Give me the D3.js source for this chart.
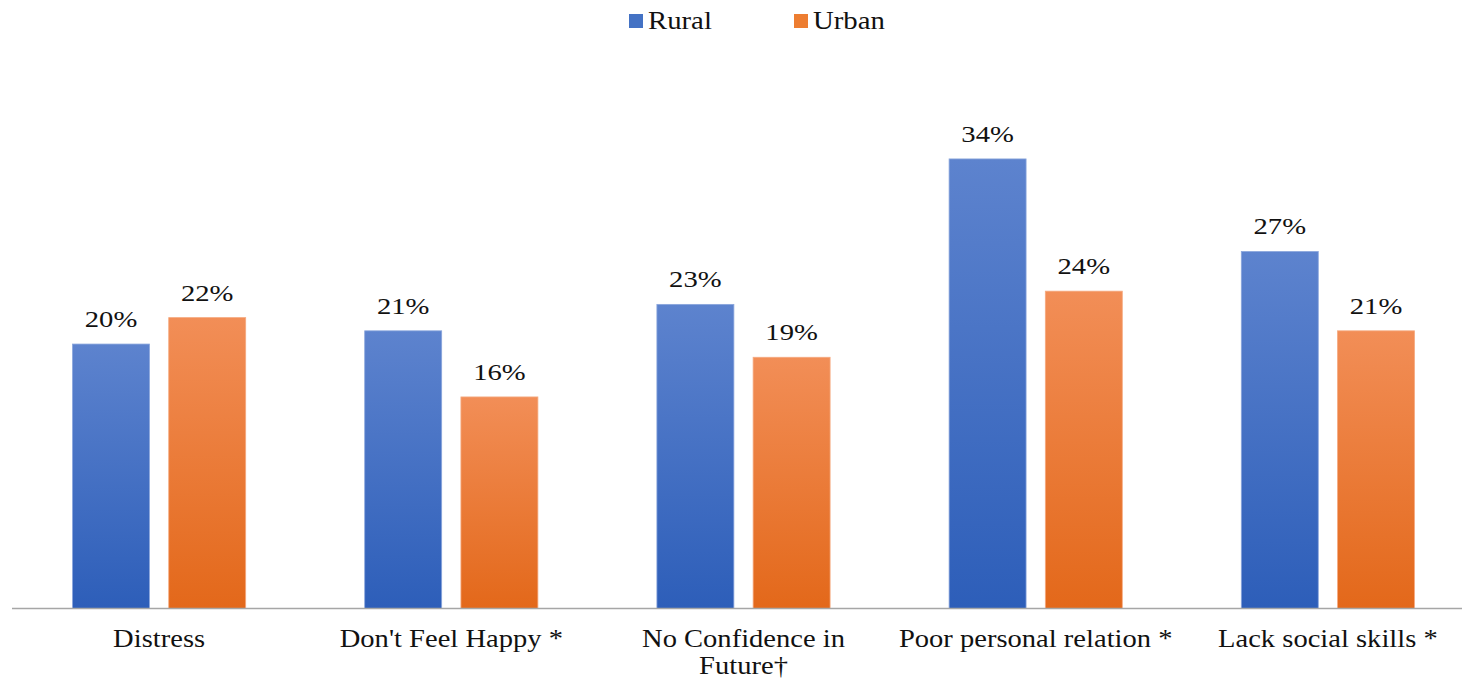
<!DOCTYPE html>
<html>
<head>
<meta charset="utf-8">
<script src="https://cdn.jsdelivr.net/npm/d3@7"></script>
<style>
  html, body { margin: 0; padding: 0; background: #fff; }
  svg { display: block; }
  text { font-family: "Liberation Serif", "Times New Roman", serif; fill: #111; }
</style>
</head>
<body>
<svg id="chart" width="1462" height="682"></svg>
<script>
// Share of respondents by indicator, rural vs urban
const categories = [
  "Distress",
  "Don't Feel Happy *",
  "No Confidence in Future\u2020",
  "Poor personal relation *",
  "Lack social skills *"
];
const categoryLines = [
  ["Distress"],
  ["Don't Feel Happy *"],
  ["No Confidence in", "Future\u2020"],
  ["Poor personal relation *"],
  ["Lack social skills *"]
];
const seriesNames = ["Rural", "Urban"];
const rural = [20, 21, 23, 34, 27];
const urban = [22, 16, 19, 24, 21];

const svg = d3.select("#chart");
const W = 1462, H = 682;

const x0 = d3.scaleBand().domain(categories).range([13, 1474]).paddingInner(0).paddingOuter(0);
const x1 = d3.scaleBand().domain(seriesNames).range([59.5, x0.bandwidth() - 59.5]).paddingInner(0.2).paddingOuter(0);
const y = d3.scaleLinear().domain([0, 40]).range([608.5, 79.6]);

// gradients
const defs = svg.append("defs");
const grads = [
  { id: "gRural", top: "#5d83ce", bottom: "#2d5eb9" },
  { id: "gUrban", top: "#f28e57", bottom: "#e3681a" }
];
grads.forEach(g => {
  const lg = defs.append("linearGradient").attr("id", g.id)
    .attr("x1", 0).attr("y1", 0).attr("x2", 0).attr("y2", 1);
  lg.append("stop").attr("offset", "0%").attr("stop-color", g.top);
  lg.append("stop").attr("offset", "100%").attr("stop-color", g.bottom);
});
const fills = { Rural: "url(#gRural)", Urban: "url(#gUrban)" };
const strokes = { Rural: "#8aa6dc", Urban: "#f5aa80" };

const rows = categories.map((c, i) => ({ cat: c, vals: [
  { s: "Rural", v: rural[i] }, { s: "Urban", v: urban[i] }
]}));

const groups = svg.selectAll("g.cat").data(rows).enter().append("g")
  .attr("class", "cat")
  .attr("transform", d => `translate(${x0(d.cat)},0)`);

groups.selectAll("rect").data(d => d.vals).enter().append("rect")
  .attr("x", d => x1(d.s))
  .attr("y", d => y(d.v))
  .attr("width", x1.bandwidth())
  .attr("height", d => y(0) - y(d.v))
  .attr("fill", d => fills[d.s])
  .attr("stroke", d => strokes[d.s])
  .attr("stroke-width", 0.8);

groups.selectAll("text.val").data(d => d.vals).enter().append("text")
  .attr("class", "val")
  .attr("text-anchor", "middle")
  .attr("font-size", 23.5)
  .attr("transform", d => `translate(${x1(d.s) + x1.bandwidth() / 2},${y(d.v) - 17}) scale(1.22,1)`)
  .text(d => d.v + "%");

// baseline axis
const axis = svg.append("g").attr("transform", `translate(0,${y(0)})`)
  .call(d3.axisBottom(x0).tickSize(0).tickFormat(""));
axis.select(".domain").attr("stroke", "#a6a6a6").attr("stroke-width", 1.5).attr("d", `M12,0H${W}`);

// category labels
categoryLines.forEach((lines, i) => {
  const cx = x0(categories[i]) + x0.bandwidth() / 2;
  lines.forEach((ln, j) => {
    svg.append("text")
      .attr("text-anchor", "middle")
      .attr("font-size", 25.5)
      .attr("transform", `translate(${cx},${647 + j * 27}) scale(1.12,1)`)
      .text(ln);
  });
});

// legend
const legendItems = [
  { s: "Rural", color: "#4472c4", x: 629 },
  { s: "Urban", color: "#ed7d31", x: 794 }
];
legendItems.forEach(l => {
  svg.append("rect").attr("x", l.x).attr("y", 14).attr("width", 14).attr("height", 14).attr("fill", l.color);
  svg.append("text").attr("font-size", 25)
    .attr("transform", `translate(${l.x + 19},29) scale(1.15,1)`)
    .text(l.s);
});
</script>
</body>
</html>
